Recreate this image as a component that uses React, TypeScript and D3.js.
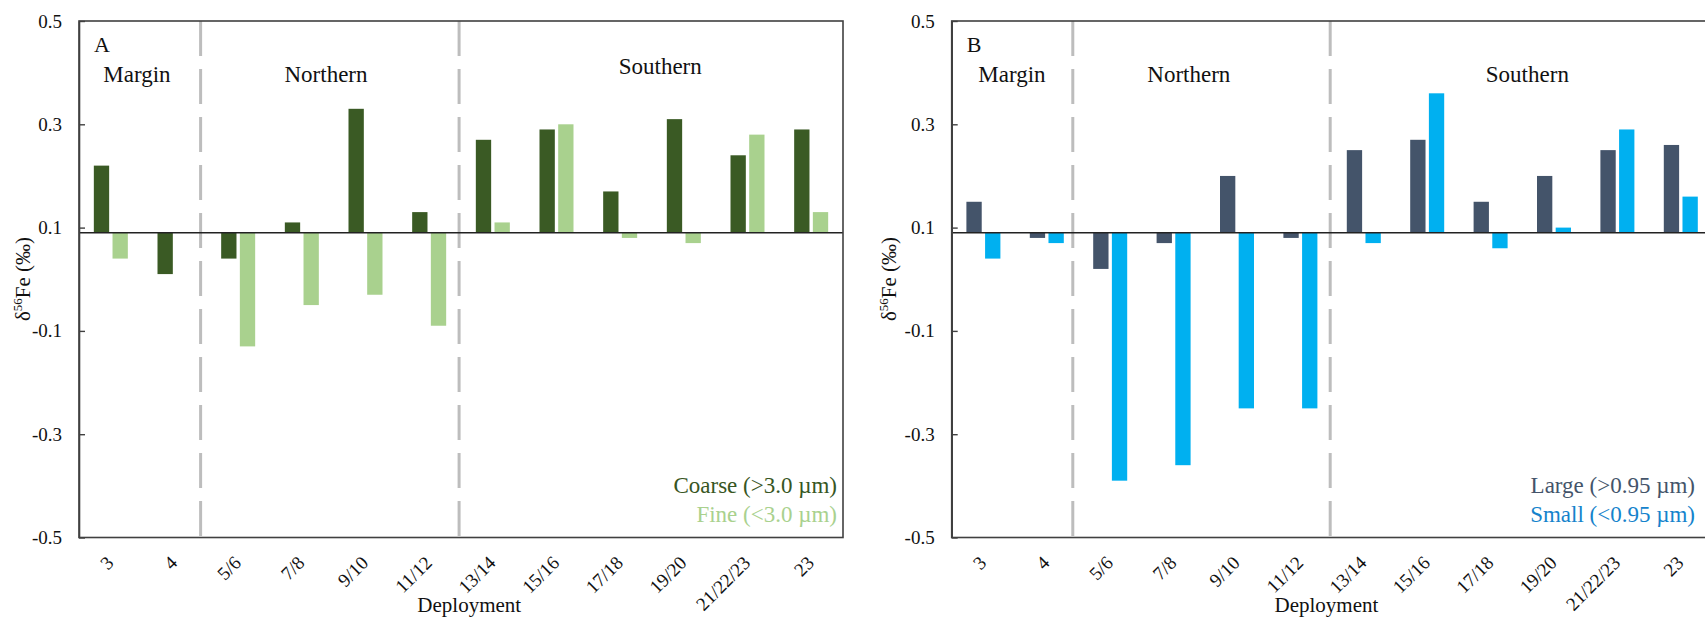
import React, { useRef, useEffect } from "react";
import { select, scaleBand, scaleLinear, axisLeft } from "d3";

// deployments on the x axis
const deployments = ["3", "4", "5/6", "7/8", "9/10", "11/12", "13/14", "15/16", "17/18", "19/20", "21/22/23", "23"];

// panel A: coarse / fine
const coarse = [0.22, 0.01, 0.04, 0.11, 0.33, 0.13, 0.27, 0.29, 0.17, 0.31, 0.24, 0.29];
const fine = [0.04, null, -0.13, -0.05, -0.03, -0.09, 0.11, 0.3, 0.08, 0.07, 0.28, 0.13];

// panel B: large / small
const large = [0.15, 0.08, 0.02, 0.07, 0.2, 0.08, 0.25, 0.27, 0.15, 0.2, 0.25, 0.26];
const small = [0.04, 0.07, -0.39, -0.36, -0.25, -0.25, 0.07, 0.36, 0.06, 0.1, 0.29, 0.16];

const yTicks = [0.5, 0.3, 0.1, -0.1, -0.3, -0.5];
const axisCross = 0.09;
const regions = ["Margin", "Northern", "Southern"];
const dividerAt = [1.91, 5.97];

const FONT = "'Liberation Serif', 'Times New Roman', serif";

interface PanelSpec {
  letter: string;
  series: (number | null)[][];
  colors: string[];
  labels: string[];
  labelColors: string[];
  left: number;
  right: number;
  regionPos: number[];
  regionY: number[];
  xTitleAt: number;
  yTitleX: number;
  legendEnd: number;
}

const panels: PanelSpec[] = [
  {
    letter: "A",
    series: [coarse, fine],
    colors: ["#3a5a24", "#a9d18e"],
    labels: ["Coarse (>3.0 \u00b5m)", "Fine (<3.0 \u00b5m)"],
    labelColors: ["#375623", "#a9d18e"],
    left: 79,
    right: 843,
    regionPos: [0.91, 3.88, 9.13],
    regionY: [81.5, 81.5, 74],
    xTitleAt: 6.13,
    yTitleX: 23,
    legendEnd: 837,
  },
  {
    letter: "B",
    series: [large, small],
    colors: ["#44546a", "#00b0f0"],
    labels: ["Large (>0.95 \u00b5m)", "Small (<0.95 \u00b5m)"],
    labelColors: ["#44546a", "#1583cc"],
    left: 951.7,
    right: 1712.5,
    regionPos: [0.95, 3.74, 9.08],
    regionY: [81.5, 81.5, 81.5],
    xTitleAt: 5.91,
    yTitleX: 889,
    legendEnd: 1695,
  },
];

const top = 21;
const bottom = 537.5;

function drawPanel(svg: any, p: PanelSpec) {
  const x = scaleBand<string>().domain(deployments).range([p.left, p.right]).padding(0);
  const half = x.bandwidth() / 2;
  const xi = scaleBand<string>()
    .domain(["a", "b"])
    .range([half - 17, half + 17])
    .paddingInner(0.18);
  const y = scaleLinear().domain([-0.5, 0.5]).range([bottom, top]);

  const g = svg.append("g");

  // dashed region dividers
  g.selectAll(null)
    .data(dividerAt)
    .join("line")
    .attr("x1", (d: number) => p.left + d * x.step())
    .attr("x2", (d: number) => p.left + d * x.step())
    .attr("y1", top)
    .attr("y2", bottom)
    .attr("stroke", "#bdbdbd")
    .attr("stroke-width", 3)
    .attr("stroke-dasharray", "35 13");

  // bars
  ["a", "b"].forEach((key, si) => {
    const rows = deployments
      .map((d, i) => ({ d, v: p.series[si][i] }))
      .filter((e) => e.v != null) as { d: string; v: number }[];
    g.selectAll(null)
      .data(rows)
      .join("rect")
      .attr("x", (e: any) => (x(e.d) as number) + (xi(key) as number))
      .attr("width", xi.bandwidth())
      .attr("y", (e: any) => y(Math.max(e.v, axisCross)))
      .attr("height", (e: any) => Math.abs(y(e.v) - y(axisCross)))
      .attr("fill", p.colors[si]);
  });

  // horizontal axis line
  g.append("line")
    .attr("x1", p.left)
    .attr("x2", p.right)
    .attr("y1", y(axisCross))
    .attr("y2", y(axisCross))
    .attr("stroke", "#222")
    .attr("stroke-width", 1.4);

  // frame
  g.append("rect")
    .attr("x", p.left)
    .attr("y", top)
    .attr("width", p.right - p.left)
    .attr("height", bottom - top)
    .attr("fill", "none")
    .attr("stroke", "#404040")
    .attr("stroke-width", 1.6);

  // y axis
  const yAxisG = g
    .append("g")
    .attr("transform", `translate(${p.left},0)`)
    .call(
      axisLeft(y)
        .tickValues(yTicks)
        .tickSizeInner(-6)
        .tickSizeOuter(0)
        .tickPadding(17)
        .tickFormat((d: any) => String(d))
    );
  yAxisG.select(".domain").attr("stroke", "#404040").attr("stroke-width", 1.6);
  yAxisG.selectAll(".tick line").attr("stroke", "#404040").attr("stroke-width", 1.4);
  yAxisG
    .selectAll(".tick text")
    .attr("fill", "#111")
    .attr("font-family", FONT)
    .attr("font-size", 19);

  // x tick labels
  g.selectAll(null)
    .data(deployments)
    .join("text")
    .attr("transform", (d: string) => `translate(${(x(d) as number) + half + 4},564) rotate(-45)`)
    .attr("text-anchor", "end")
    .attr("font-family", FONT)
    .attr("font-size", 19)
    .attr("fill", "#111")
    .text((d: string) => d);

  // x title
  g.append("text")
    .attr("x", p.left + p.xTitleAt * x.step())
    .attr("y", 612)
    .attr("text-anchor", "middle")
    .attr("font-family", FONT)
    .attr("font-size", 21)
    .attr("fill", "#111")
    .text("Deployment");

  // y title
  const yt = g
    .append("text")
    .attr("transform", `translate(${p.yTitleX + 7},279) rotate(-90)`)
    .attr("text-anchor", "middle")
    .attr("font-family", FONT)
    .attr("font-size", 21)
    .attr("fill", "#111");
  yt.append("tspan").text("\u03b4");
  yt.append("tspan").attr("dy", -8).attr("font-size", 13).text("56");
  yt.append("tspan").attr("dy", 8).text("Fe (\u2030)");

  // panel letter
  g.append("text")
    .attr("x", p.left + 15)
    .attr("y", 52)
    .attr("font-family", FONT)
    .attr("font-size", 22)
    .attr("fill", "#111")
    .text(p.letter);

  // region labels
  g.selectAll(null)
    .data(regions)
    .join("text")
    .attr("x", (_: string, i: number) => p.left + p.regionPos[i] * x.step())
    .attr("y", (_: string, i: number) => p.regionY[i])
    .attr("text-anchor", "middle")
    .attr("font-family", FONT)
    .attr("font-size", 23)
    .attr("fill", "#111")
    .text((d: string) => d);

  // legend
  g.selectAll(null)
    .data(p.labels)
    .join("text")
    .attr("x", p.legendEnd)
    .attr("y", (_: string, i: number) => 493 + i * 29)
    .attr("text-anchor", "end")
    .attr("font-family", FONT)
    .attr("font-size", 23)
    .attr("fill", (_: string, i: number) => p.labelColors[i])
    .text((d: string) => d);
}

const App: React.FC = () => {
  const svgRef = useRef<SVGSVGElement>(null);

  useEffect(() => {
    document.body.style.margin = "0";
    document.body.style.overflow = "hidden";
    const svg = select(svgRef.current);
    svg.selectAll("*").remove();
    svg.append("rect").attr("width", 1705).attr("height", 618).attr("fill", "#fff");
    panels.forEach((p) => drawPanel(svg, p));
  }, []);

  return <svg ref={svgRef} width={1705} height={618} style={{ display: "block" }} />;
};

export default App;
